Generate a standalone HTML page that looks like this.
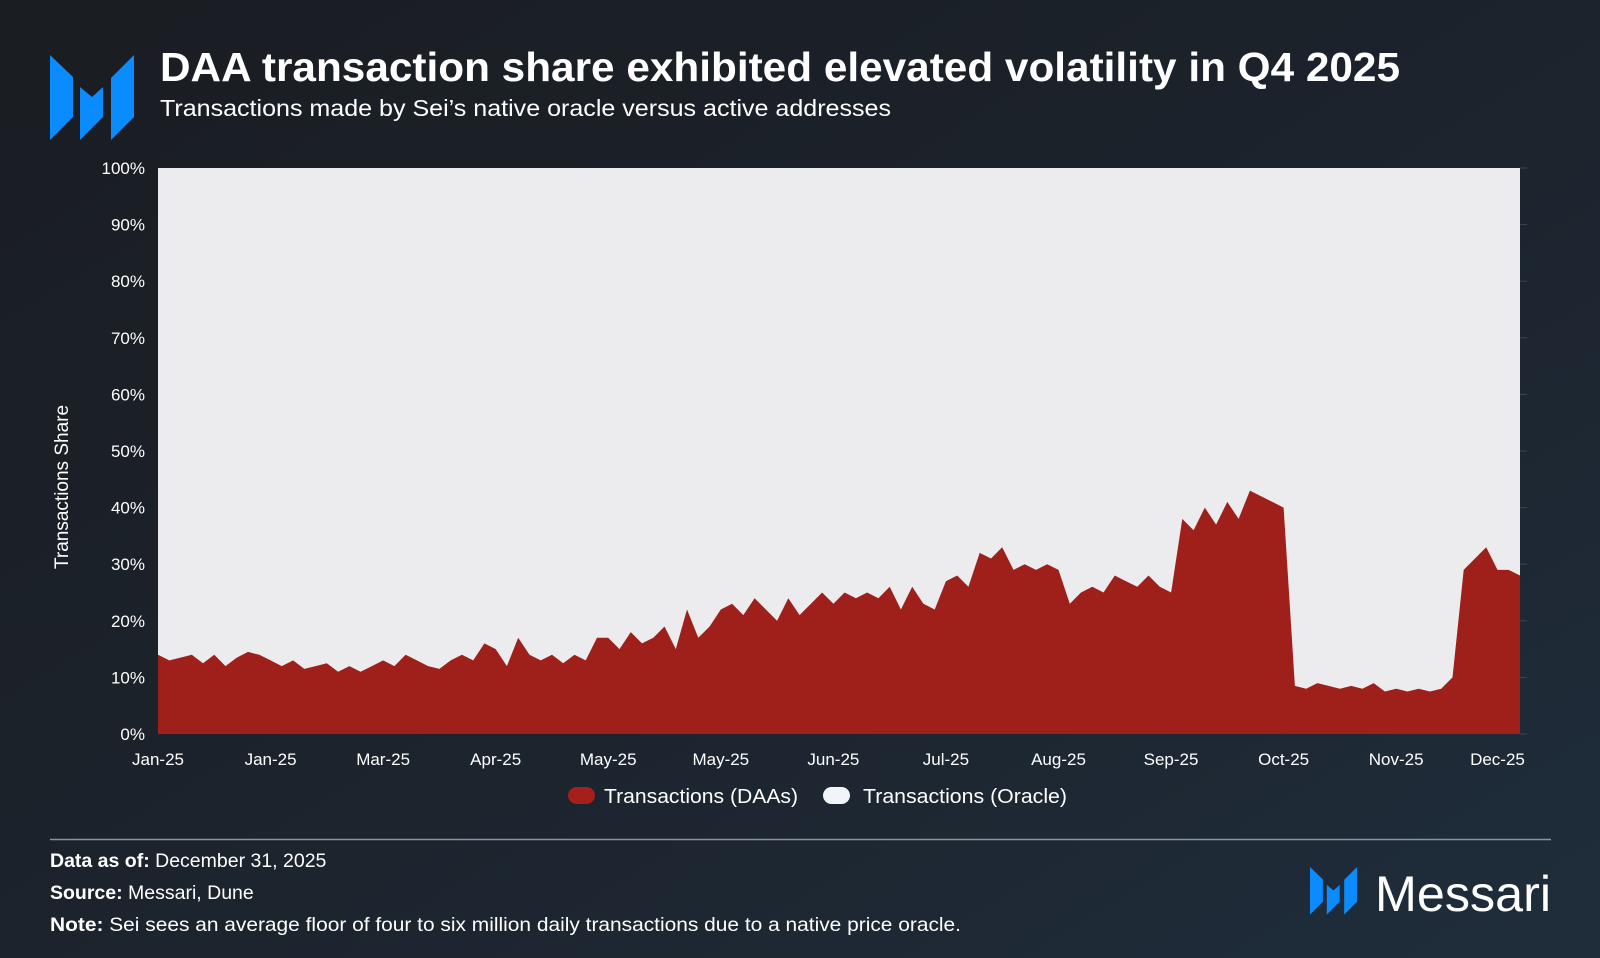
<!DOCTYPE html>
<html><head><meta charset="utf-8"><style>
html,body{margin:0;padding:0;width:1600px;height:958px;overflow:hidden;background:#1b2028}
text{font-family:"Liberation Sans",sans-serif}
</style></head><body>
<svg id="chart" width="1600" height="958" viewBox="0 0 1600 958" xmlns="http://www.w3.org/2000/svg">
<defs>
<linearGradient id="bg" x1="0" y1="0" x2="1" y2="1">
<stop offset="0" stop-color="#1a1d22"/><stop offset="0.5" stop-color="#1c232c"/><stop offset="1" stop-color="#1f2d3b"/>
</linearGradient>
<g id="mlogo" fill="#0a8cff">
<polygon points="50,55 73,77 73,117 50,140"/>
<polygon points="80,87 92,97 103,87 103,117 80,140"/>
<polygon points="111,78 134,55 134,117 111,140"/>
</g>
</defs>
<rect width="1600" height="958" fill="url(#bg)"/>
<use href="#mlogo"/>
<text x="160" y="81" font-size="41" font-weight="bold" fill="#ffffff" textLength="1240" lengthAdjust="spacingAndGlyphs">DAA transaction share exhibited elevated volatility in Q4 2025</text>
<text x="160" y="116" font-size="23" fill="#ffffff" textLength="731" lengthAdjust="spacingAndGlyphs">Transactions made by Sei’s native oracle versus active addresses</text>
<rect x="158" y="168" width="1362" height="566" fill="#ececee"/>
<g id="marks"></g>
<g id="yaxis"></g>
<g id="xaxis"></g>
<text transform="translate(68,487) rotate(-90)" text-anchor="middle" font-size="19" fill="#ffffff">Transactions Share</text>
<g>
<rect x="568" y="787" width="27" height="17" rx="8.5" fill="#a51f1c"/>
<text x="604" y="803" font-size="20" fill="#ffffff" textLength="194" lengthAdjust="spacingAndGlyphs">Transactions (DAAs)</text>
<rect x="823" y="787" width="27" height="17" rx="8.5" fill="#f2f5f8"/>
<text x="863" y="803" font-size="20" fill="#ffffff" textLength="204" lengthAdjust="spacingAndGlyphs">Transactions (Oracle)</text>
</g>
<line x1="50" y1="839.5" x2="1551" y2="839.5" stroke="#8a929b" stroke-width="1.5"/>
<text x="50" y="867" font-size="19.5" fill="#ffffff"><tspan font-weight="bold">Data as of:</tspan> December 31, 2025</text>
<text x="50" y="899" font-size="19.5" fill="#ffffff"><tspan font-weight="bold">Source:</tspan> Messari, Dune</text>
<text x="50" y="931" font-size="19.5" fill="#ffffff" textLength="911" lengthAdjust="spacingAndGlyphs"><tspan font-weight="bold">Note:</tspan> Sei sees an average floor of four to six million daily transactions due to a native price oracle.</text>
<g>
<use href="#mlogo" transform="translate(1310,867) scale(0.56) translate(-50,-55)"/>
<text x="1375" y="911" font-size="50" fill="#ffffff" textLength="176" lengthAdjust="spacingAndGlyphs">Messari</text>
</g>
</svg>
<script>
const daaShare = [14,13,13.5,14,12.5,14,12,13.5,14.5,14,
13,12,13,11.5,12,12.5,11,12,11,12,
13,12,14,13,12,11.5,13,14,13,16,
15,12,17,14,13,14,12.5,14,13,17,
17,15,18,16,17,19,15,22,17,19,
22,23,21,24,22,20,24,21,23,25,
23,25,24,25,24,26,22,26,23,22,
27,28,26,32,31,33,29,30,29,30,
29,23,25,26,25,28,27,26,28,26,
25,38,36,40,37,41,38,43,42,41,
40,8.5,8,9,8.5,8,8.5,8,9,7.5,
8,7.5,8,7.5,8,10,29,31,33,29,
29,28];
const dayStep = 3;
const yTicks = [0,10,20,30,40,50,60,70,80,90,100];
const xLabels = ["Jan-25","Jan-25","Mar-25","Apr-25","May-25","May-25","Jun-25","Jul-25","Aug-25","Sep-25","Oct-25","Nov-25","Dec-25"];
const xLabelDays = [0,30,60,90,120,150,180,210,240,270,300,330,357];

const NS="http://www.w3.org/2000/svg";
const L=158,R=1520,T=168,B=734,maxDay=363;
const xs=d=>L+d/maxDay*(R-L);
const ys=v=>B-v/100*(B-T);
function mk(tag,attrs,parent){const e=document.createElementNS(NS,tag);for(const k in attrs)e.setAttribute(k,attrs[k]);parent.appendChild(e);return e;}

const marks=document.getElementById('marks');
let d=`M${xs(0)},${B}`;
daaShare.forEach((v,i)=>{const day=Math.min(i*dayStep,maxDay);d+=` L${xs(day).toFixed(1)},${ys(v).toFixed(1)}`;});
d+=` L${xs(Math.min((daaShare.length-1)*dayStep,maxDay))},${B} Z`;
const area=mk('path',{d:d,fill:'#9f1f1a'},marks);



const ya=document.getElementById('yaxis');
yTicks.forEach(t=>{
  const tx=mk('text',{x:145,y:ys(t)+6,'text-anchor':'end','font-size':17,fill:'#ffffff'},ya);
  tx.textContent=t+'%';
  
  
  const tk=mk('line',{x1:R,x2:R+7,y1:ys(t),y2:ys(t),stroke:'#3a4450','stroke-width':1},ya);
  
  
});
const xa=document.getElementById('xaxis');
xLabels.forEach((lab,i)=>{
  const tx=mk('text',{x:xs(xLabelDays[i]),y:765,'text-anchor':'middle','font-size':17,fill:'#ffffff'},xa);
  tx.textContent=lab;
  
  
});
</script>
</body></html>
